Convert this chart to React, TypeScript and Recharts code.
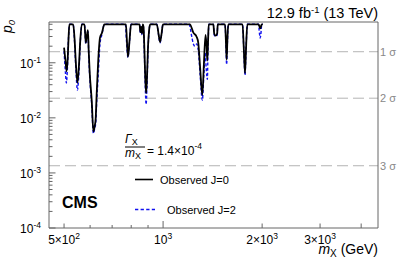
import { LineChart, Line, XAxis, YAxis, ReferenceLine } from "recharts";

document.body.style.margin = "0";

// observed local p-values (mass in GeV)
const massJ0 = [
  500, 505, 509, 513, 516, 519, 533, 538, 543, 549, 555, 560, 566, 577, 582, 586, 591, 594, 598, 607,
  614, 620, 624, 628, 635, 643, 652, 663, 771, 776, 782, 791, 799, 848, 853, 858, 863, 868, 872, 878,
  883, 888, 893, 900, 907, 913, 957, 969, 979, 989, 999, 1206, 1236, 1265, 1279, 1296, 1316, 1330,
  1346, 1356, 1363, 1370, 1376, 1422, 1430, 1445, 1460, 1466, 1543, 1552, 1560, 1568, 1578, 1744,
  1758, 1774, 1788, 1803, 1950, 1965, 1973, 1982, 1995, 2010,
];
const pJ0 = [
  0.188, 0.11, 0.07, 0.12, 0.28, 0.5, 0.5, 0.28, 0.1, 0.043, 0.09, 0.25, 0.5, 0.5, 0.23, 0.3, 0.39, 0.17, 0.07, 0.02,
  0.0056, 0.0072, 0.0098, 0.026, 0.107, 0.286, 0.35, 0.5, 0.5, 0.26, 0.128, 0.26, 0.5, 0.5, 0.36, 0.45, 0.34, 0.5, 0.45, 0.15,
  0.05, 0.028, 0.05, 0.2, 0.4, 0.5, 0.5, 0.33, 0.238, 0.33, 0.5, 0.5, 0.352, 0.294, 0.231, 0.081, 0.026, 0.09,
  0.32, 0.2, 0.11, 0.25, 0.5, 0.5, 0.34, 0.31, 0.34, 0.5, 0.5, 0.25, 0.114, 0.25, 0.5, 0.5,
  0.2, 0.065, 0.2, 0.5, 0.5, 0.45, 0.42, 0.45, 0.5, 0.5,
];

const massJ2 = [
  500, 505, 508, 512, 516, 520, 533, 538, 543, 549, 555, 560, 566, 577, 582, 586, 591, 594, 598, 607,
  614, 620, 624, 628, 635, 643, 652, 663, 768, 774, 782, 791, 799, 848, 853, 858, 863, 868, 872, 878,
  883, 888, 893, 900, 907, 913, 957, 969, 979, 989, 999, 1200, 1222, 1236, 1250, 1265, 1279, 1296,
  1316, 1330, 1343, 1352, 1363, 1370, 1378, 1422, 1430, 1445, 1460, 1466, 1543, 1552, 1560, 1568,
  1578, 1744, 1758, 1774, 1788, 1803, 1950, 1962, 1973, 1984, 1995, 2010,
];
const pJ2 = [
  0.163, 0.065, 0.043, 0.081, 0.3, 0.5, 0.5, 0.25, 0.08, 0.032, 0.07, 0.22, 0.5, 0.5, 0.22, 0.3, 0.37, 0.15, 0.06, 0.017,
  0.0052, 0.0065, 0.008, 0.018, 0.06, 0.22, 0.33, 0.5, 0.5, 0.25, 0.125, 0.25, 0.5, 0.5, 0.34, 0.44, 0.32, 0.5, 0.42, 0.12,
  0.035, 0.0175, 0.035, 0.17, 0.38, 0.5, 0.5, 0.32, 0.23, 0.32, 0.5, 0.5, 0.3, 0.22, 0.2, 0.22, 0.17, 0.06,
  0.021, 0.06, 0.15, 0.08, 0.05, 0.2, 0.5, 0.5, 0.32, 0.3, 0.32, 0.5, 0.5, 0.22, 0.093, 0.22,
  0.5, 0.5, 0.19, 0.06, 0.19, 0.5, 0.5, 0.35, 0.28, 0.35, 0.5, 0.5,
];

const seriesNames = ["Observed J=0", "Observed J=2"];

const sigmaP = [0.1587, 0.02275, 0.00135];
const sigmaLabels = ["1 σ", "2 σ", "3 σ"];

const xDomain = [450, 4500];
const yDomain = [1e-4, 0.55];
const xTicks = [500, 600, 700, 800, 900, 1000, 2000, 3000, 4000];
const xTickLabels: Record<number, [string, string]> = {
  500: ["5×10", "2"],
  1000: ["10", "3"],
  2000: ["2×10", "3"],
  3000: ["3×10", "3"],
};
const yDecades = [1e-4, 1e-3, 1e-2, 1e-1];
const yDecadeExp = ["-4", "-3", "-2", "-1"];
const yMinor = [2, 3, 4, 5, 6, 7, 8, 9];
const yTicks = yDecades
  .flatMap((d) => [d, ...yMinor.map((k) => +(d * k).toPrecision(3))])
  .filter((v) => v <= yDomain[1]);

const dataJ0 = massJ0.map((m, i) => ({ m, p: pJ0[i] }));
const dataJ2 = massJ2.map((m, i) => ({ m, p: pJ2[i] }));

const FONT = "'Liberation Sans', Arial, Helvetica, sans-serif";
const AXIS = "#666";
const BLUE = "#1010f0";
const W = 407;
const H = 260;

const XTick = (props: any) => {
  const { x, y, payload } = props;
  const v = payload.value as number;
  const lab = xTickLabels[v];
  const len = v === 1000 ? 7 : lab || v === 4000 ? 4.5 : 3;
  return (
    <g>
      <line x1={x} x2={x} y1={y} y2={y - len} stroke={AXIS} />
      {lab && (
        <text x={x} y={y + 16} textAnchor="middle" fontSize={12} fill="#000" fontFamily={FONT}>
          {lab[0]}
          <tspan fontSize={8.5} dy={-5}>{lab[1]}</tspan>
        </text>
      )}
    </g>
  );
};

const YTick = (props: any) => {
  const { x, y, payload } = props;
  const v = payload.value as number;
  const di = yDecades.findIndex((d) => Math.abs(d - v) / d < 1e-6);
  const major = di >= 0;
  return (
    <g>
      <line x1={x} x2={x + (major ? 6.5 : 3.5)} y1={y} y2={y} stroke={AXIS} />
      {major && (
        <text x={x - 8} y={y + 5} textAnchor="end" fontSize={12} fill="#000" fontFamily={FONT}>
          10
          <tspan fontSize={8.5} dy={-5}>{yDecadeExp[di]}</tspan>
        </text>
      )}
    </g>
  );
};

export default function App() {
  return (
    <div style={{ position: "relative", width: W, height: H, background: "#fff" }}>
      <LineChart width={W} height={H} margin={{ top: 22, right: 29, bottom: 0, left: 0 }}>
        <XAxis
          dataKey="m"
          type="number"
          scale="log"
          domain={xDomain}
          allowDataOverflow
          ticks={xTicks}
          interval={0}
          tick={<XTick />}
          tickLine={false}
          tickSize={0}
          tickMargin={0}
          height={32}
          axisLine={{ stroke: AXIS }}
        />
        <YAxis
          dataKey="p"
          type="number"
          scale="log"
          domain={yDomain}
          allowDataOverflow
          ticks={yTicks}
          interval={0}
          tick={<YTick />}
          tickLine={false}
          tickSize={0}
          tickMargin={0}
          width={49}
          axisLine={{ stroke: AXIS }}
        />
        {sigmaP.map((p, i) => (
          <ReferenceLine
            key={p}
            y={p}
            stroke="#b4b4b4"
            strokeDasharray="11 5"
            label={{ value: sigmaLabels[i], position: "right", fill: "#888", fontSize: 11, offset: 2, fontFamily: FONT }}
          />
        ))}
        <ReferenceLine y={yDomain[1]} stroke={AXIS} />
        <ReferenceLine x={xDomain[1]} stroke={AXIS} />
        <Line
          data={dataJ2}
          dataKey="p"
          name={seriesNames[1]}
          type="monotone"
          stroke={BLUE}
          strokeWidth={1.4}
          strokeDasharray="3 2"
          dot={false}
          isAnimationActive={false}
        />
        <Line
          data={dataJ0}
          dataKey="p"
          name={seriesNames[0]}
          type="monotone"
          stroke="#000"
          strokeWidth={1.8}
          dot={false}
          isAnimationActive={false}
        />
      </LineChart>
      <svg
        width={W}
        height={H}
        style={{ position: "absolute", left: 0, top: 0, pointerEvents: "none" }}
        fontFamily={FONT}
      >
        <text x={378} y={18} textAnchor="end" fontSize={14.5}>
          12.9 fb<tspan fontSize={9.5} dy={-5}>-1</tspan>
          <tspan dy={5}> (13 TeV)</tspan>
        </text>
        <text transform="translate(12, 20) rotate(-90)" textAnchor="end" fontSize={14} fontStyle="italic">
          p<tspan fontSize={9.5} dy={3}>0</tspan>
        </text>
        <text x={378} y={254} textAnchor="end" fontSize={14}>
          <tspan fontStyle="italic">m</tspan>
          <tspan fontSize={10} dy={2.5}>X</tspan>
          <tspan dy={-2.5}> (GeV)</tspan>
        </text>
        <text x={62} y={208} fontSize={16} fontWeight="bold">CMS</text>
        <text x={125} y={143} fontSize={12}>
          <tspan fontStyle="italic">Γ</tspan>
          <tspan fontSize={9} dy={2}>X</tspan>
        </text>
        <line x1={125} x2={145} y1={147} y2={147} stroke="#000" strokeWidth={1} />
        <text x={125} y={157} fontSize={12}>
          <tspan fontStyle="italic">m</tspan>
          <tspan fontSize={9} dy={2}>X</tspan>
        </text>
        <text x={147} y={155} fontSize={12}>
          = 1.4×10<tspan fontSize={8.5} dy={-6}>-4</tspan>
        </text>
        <line x1={135} x2={153} y1={179.5} y2={179.5} stroke="#000" strokeWidth={1.6} />
        <text x={160} y={183.5} fontSize={11}>{seriesNames[0]}</text>
        <line x1={135} x2={155} y1={209.5} y2={209.5} stroke={BLUE} strokeWidth={1.4} strokeDasharray="3.3 2.3" />
        <text x={167} y={213.5} fontSize={11}>{seriesNames[1]}</text>
      </svg>
    </div>
  );
}
